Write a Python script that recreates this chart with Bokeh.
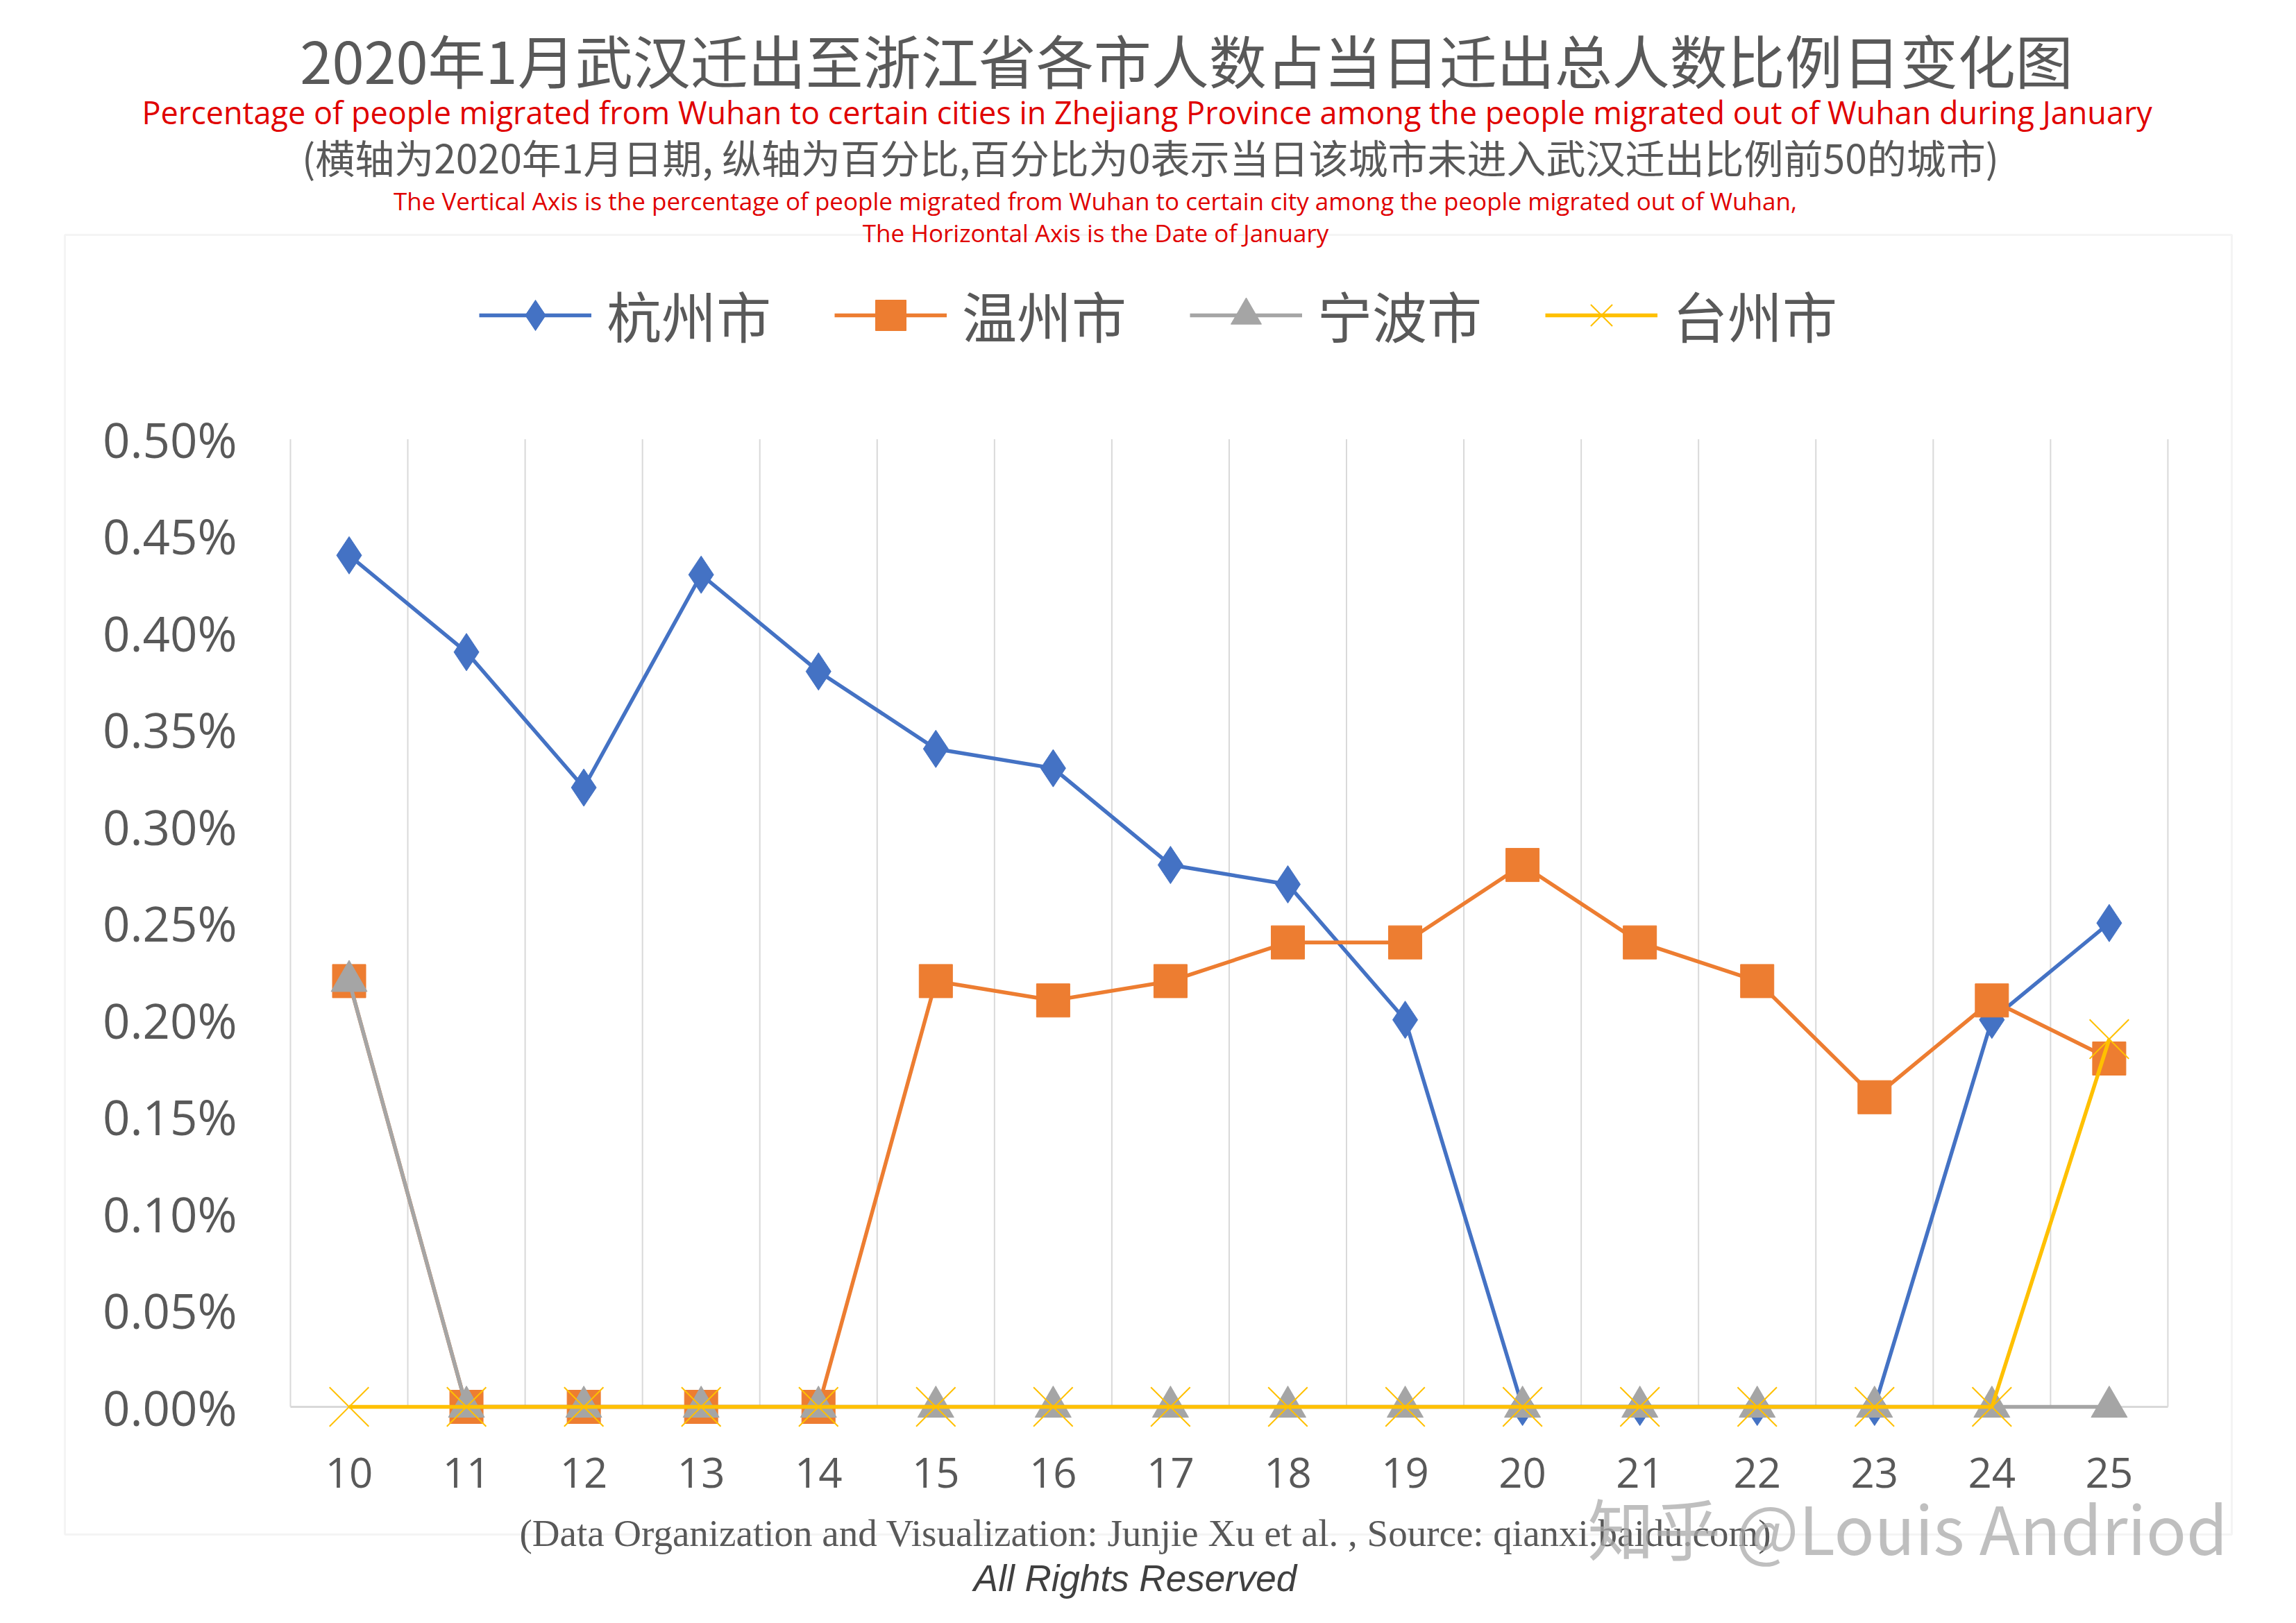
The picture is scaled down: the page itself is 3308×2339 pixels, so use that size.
from bokeh.plotting import figure
from bokeh.models import (Range1d, FixedTicker, PrintfTickFormatter, Label, Legend,
                          LegendItem, BoxAnnotation)
from bokeh.embed import file_html
from bokeh.resources import INLINE

# ---------------- data ----------------
days = [10, 11, 12, 13, 14, 15, 16, 17, 18, 19, 20, 21, 22, 23, 24, 25]
hangzhou = [0.44, 0.39, 0.32, 0.43, 0.38, 0.34, 0.33, 0.28, 0.27, 0.20, 0.0, 0.0, 0.0, 0.0, 0.20, 0.25]
wenzhou = [0.22, 0.0, 0.0, 0.0, 0.0, 0.22, 0.21, 0.22, 0.24, 0.24, 0.28, 0.24, 0.22, 0.16, 0.21, 0.18]
ningbo = [0.22, 0.0, 0.0, 0.0, 0.0, 0.0, 0.0, 0.0, 0.0, 0.0, 0.0, 0.0, 0.0, 0.0, 0.0, 0.0]
taizhou = [0.0, 0.0, 0.0, 0.0, 0.0, 0.0, 0.0, 0.0, 0.0, 0.0, 0.0, 0.0, 0.0, 0.0, 0.0, 0.19]
city_names = ["杭州市", "温州市", "宁波市", "台州市"]
y_ticks = [0.0, 0.05, 0.10, 0.15, 0.20, 0.25, 0.30, 0.35, 0.40, 0.45, 0.50]

title_cn = "2020年1月武汉迁出至浙江省各市人数占当日迁出总人数比例日变化图"
title_en = ("Percentage of people migrated from Wuhan to certain cities in Zhejiang Province  "
            "among the people migrated out of Wuhan during January")
note_cn = "(横轴为2020年1月日期, 纵轴为百分比,百分比为0表示当日该城市未进入武汉迁出比例前50的城市)"
note_en1 = ("The Vertical Axis is the percentage of people migrated from Wuhan to certain city  "
            "among the people migrated out of Wuhan,")
note_en2 = "The Horizontal Axis is the Date of January"
footer1 = "(Data Organization and Visualization: Junjie Xu et al. , Source: qianxi.baidu.com)"
footer2 = "All Rights Reserved"
watermark = "知乎 @Louis Andriod"

# ---------------- styles ----------------
C_BLUE = "#4472C4"
C_ORANGE = "#ED7D31"
C_GRAY = "#A5A5A5"
C_YELLOW = "#FFC000"
C_TEXT = "#595959"
C_RED = "#E00000"
C_GRID = "#D9D9D9"

W, H = 3292, 2323
# plot geometry (canvas px): first category centre, px per day, y of 0 and px per unit
X0_PX, PX_DAY = 502.5, 169.06
Y0_PX, PX_UNIT = 2027.0, 2789.0

x_start = days[0] - X0_PX / PX_DAY
x_end = x_start + W / PX_DAY
y_start = y_ticks[0] - (H - Y0_PX) / PX_UNIT
y_end = y_start + H / PX_UNIT

p = figure(width=W, height=H, output_backend="svg", toolbar_location=None,
           x_range=Range1d(x_start, x_end), y_range=Range1d(y_start, y_end),
           min_border=0)
p.outline_line_color = None
p.background_fill_color = "white"
p.border_fill_color = "white"
p.xgrid.visible = False
p.ygrid.visible = False

bounds = [d - 0.5 for d in days] + [days[-1] + 0.5]

# axes (fixed inside the frame so that the frame spans the whole canvas)
p.xaxis.fixed_location = y_ticks[0]
p.xaxis.ticker = FixedTicker(ticks=days)
p.xaxis.axis_line_color = None
p.xaxis.major_tick_line_color = None
p.xaxis.minor_tick_line_color = None
p.xaxis.major_label_text_font = "Open Sans"
p.xaxis.major_label_text_font_size = "60px"
p.xaxis.major_label_text_color = C_TEXT
p.xaxis.major_label_standoff = 67

p.yaxis.fixed_location = bounds[0]
p.yaxis.ticker = FixedTicker(ticks=y_ticks)
p.yaxis.formatter = PrintfTickFormatter(format="%.2f%%")
p.yaxis.axis_line_color = None
p.yaxis.major_tick_line_color = None
p.yaxis.minor_tick_line_color = None
p.yaxis.major_label_text_font = "Open Sans"
p.yaxis.major_label_text_font_size = "69px"
p.yaxis.major_label_text_color = C_TEXT
p.yaxis.major_label_standoff = 71

# chart area border
p.add_layout(BoxAnnotation(left=93, right=3215, top=H - 338, bottom=H - 2211,
                           left_units="screen", right_units="screen",
                           top_units="screen", bottom_units="screen",
                           fill_alpha=0, line_color=C_GRID, line_width=3, level="underlay"))

# vertical grid lines at category boundaries, from 0 to top of value axis
p.segment(x0=bounds, x1=bounds, y0=[y_ticks[0]] * len(bounds), y1=[y_ticks[-1]] * len(bounds),
          line_color=C_GRID, line_width=2)
# horizontal category axis line at 0
p.segment(x0=[bounds[0]], x1=[bounds[-1]], y0=[y_ticks[0]], y1=[y_ticks[0]],
          line_color=C_GRID, line_width=3)

# series
series = [
    (hangzhou, C_BLUE, "diamond", 54),
    (wenzhou, C_ORANGE, "square", 48),
    (ningbo, C_GRAY, "triangle", 52),
    (taizhou, C_YELLOW, "x", 80),
]
items = []
for (vals, col, mk, sz), name in zip(series, city_names):
    lr = p.line(days, vals, line_color=col, line_width=5.5)
    if mk == "x":
        sr = p.scatter(days, vals, marker=mk, size=sz, line_color=col, line_width=2)
    else:
        sr = p.scatter(days, vals, marker=mk, size=sz, fill_color=col,
                       line_color=col, line_width=1)
    items.append(LegendItem(label=name, renderers=[lr, sr]))

legend = Legend(items=items, orientation="horizontal", location=(690, 1812),
                glyph_width=162, glyph_height=110, label_standoff=22, spacing=91,
                padding=0, margin=0, border_line_color=None, background_fill_alpha=0,
                label_text_font="Noto Sans CJK SC", label_text_font_size="79px",
                label_text_color=C_TEXT)
p.add_layout(legend)


def add_text(text, cx, cy, size, color, font, style="normal", alpha=1.0):
    # cx, cy: anchor of text in canvas pixels measured from the top-left corner
    p.add_layout(Label(x=cx, y=H - cy, x_units="screen", y_units="screen",
                       text=text, text_align="center", text_baseline="middle",
                       text_font=font, text_font_size=f"{size}px", text_color=color,
                       text_font_style=style, text_alpha=alpha))


add_text(title_cn, 1709, 84, 83, C_TEXT, "Noto Sans CJK SC")
add_text(title_en, 1658, 161, 45, C_RED, "Open Sans")
add_text(note_cn, 1657, 224, 57, C_TEXT, "Noto Sans CJK SC")
add_text(note_en1, 1582, 289, 35, C_RED, "Open Sans")
add_text(note_en2, 1578, 335, 35, C_RED, "Open Sans")
add_text(footer1, 1650, 2209, 55, C_TEXT, "Liberation Serif")
add_text(footer2, 1635, 2274, 53, "#404040", "Liberation Sans", style="italic")
add_text(watermark, 2748, 2199, 96, "#AAAAAA", "Noto Sans CJK SC", alpha=0.75)

open("out.html", "w").write(file_html(p, INLINE))
